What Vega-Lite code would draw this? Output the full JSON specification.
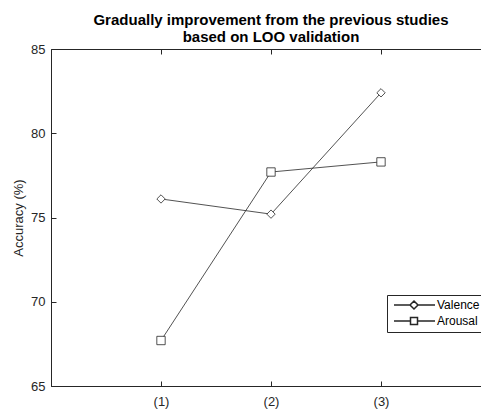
{
  "$schema": "https://vega.github.io/schema/vega-lite/v6.json",
  "width": 440,
  "height": 337,
  "autosize": {"type": "none"},
  "padding": {"left": 51, "top": 49, "right": 0, "bottom": 24},
  "background": "white",
  "title": {
    "text": ["Gradually improvement from the previous studies", "based on LOO validation"],
    "font": "Liberation Sans",
    "fontSize": 15,
    "fontWeight": "bold",
    "color": "#000000",
    "anchor": "middle",
    "offset": -2,
    "lineHeight": 17
  },
  "config": {
    "view": {"stroke": "#262626", "strokeWidth": 1},
    "font": "Liberation Sans"
  },
  "data": {
    "values": [
      {"cond": 1, "series": "Valence", "acc": 76.1},
      {"cond": 2, "series": "Valence", "acc": 75.2},
      {"cond": 3, "series": "Valence", "acc": 82.4},
      {"cond": 1, "series": "Arousal", "acc": 67.7},
      {"cond": 2, "series": "Arousal", "acc": 77.7},
      {"cond": 3, "series": "Arousal", "acc": 78.3}
    ]
  },
  "resolve": {"axis": {"x": "independent"}, "scale": {"shape": "independent"}},
  "layer": [
    {
      "mark": {"type": "line", "color": "#262626", "strokeWidth": 0.8},
      "encoding": {
        "x": {
          "field": "cond", "type": "quantitative",
          "scale": {"domain": [0, 4], "nice": false, "zero": false},
          "axis": {"orient": "top", "values": [1, 2, 3], "labels": false, "title": null, "grid": false, "domain": false, "tickSize": -5, "tickColor": "#262626"}
        },
        "y": {
          "field": "acc", "type": "quantitative",
          "scale": {"domain": [65, 85], "nice": false, "zero": false},
          "axis": {"values": [65, 70, 75, 80, 85], "title": "Accuracy (%)", "titleFont": "Liberation Sans", "titleFontSize": 13, "titleFontWeight": "normal", "titleColor": "#262626", "titlePadding": 5, "labelFont": "Liberation Sans", "labelFontSize": 13, "labelColor": "#262626", "labelPadding": 11, "tickSize": -5, "tickColor": "#262626", "domainColor": "#262626", "grid": false}
        },
        "detail": {"field": "series"}
      }
    },
    {
      "mark": {"type": "point", "filled": true, "fill": "white", "stroke": "#262626", "strokeWidth": 0.8, "opacity": 1, "size": 70},
      "encoding": {
        "x": {
          "field": "cond", "type": "quantitative",
          "scale": {"domain": [0, 4], "nice": false, "zero": false},
          "axis": {"orient": "bottom", "values": [1, 2, 3], "labelExpr": "'(' + datum.value + ')'", "title": null, "grid": false, "labelFont": "Liberation Sans", "labelFontSize": 13, "labelColor": "#262626", "labelPadding": 14, "tickSize": -5, "tickColor": "#262626", "domainColor": "#262626"}
        },
        "y": {"field": "acc", "type": "quantitative"},
        "shape": {
          "field": "series", "type": "nominal",
          "scale": {"domain": ["Valence", "Arousal"], "range": ["diamond", "square"]},
          "legend": null
        }
      }
    },
    {
      "transform": [{"filter": "false"}],
      "mark": {"type": "point", "filled": true, "fill": "white", "stroke": "#262626", "strokeWidth": 0.8, "opacity": 1, "size": 100},
      "encoding": {
        "shape": {
          "field": "series", "type": "nominal",
          "scale": {"domain": ["Valence", "Arousal"], "range": ["M-0.6,0H2.6 M3.4,-0.8L4.2,0L3.4,0.8L2.6,0Z M4.2,0H7.6", "M-0.6,0H2.7 M2.7,-0.7H4.1V0.7H2.7Z M4.1,0H7.6"]},
          "legend": {
            "orient": "none", "legendX": 336, "legendY": 246,
            "title": null,
            "strokeColor": "#262626", "fillColor": "white", "padding": 4,
            "symbolSize": 100, "labelOffset": 34, "rowPadding": 2,
            "labelFont": "Liberation Sans", "labelFontSize": 12, "labelColor": "#000000",
            "encode": {
              "symbols": {
                "update": {
                  "fill": {"value": "white"},
                  "stroke": {"value": "#262626"},
                  "strokeWidth": {"value": 0.8}
                }
              }
            }
          }
        }
      }
    }
  ]
}
